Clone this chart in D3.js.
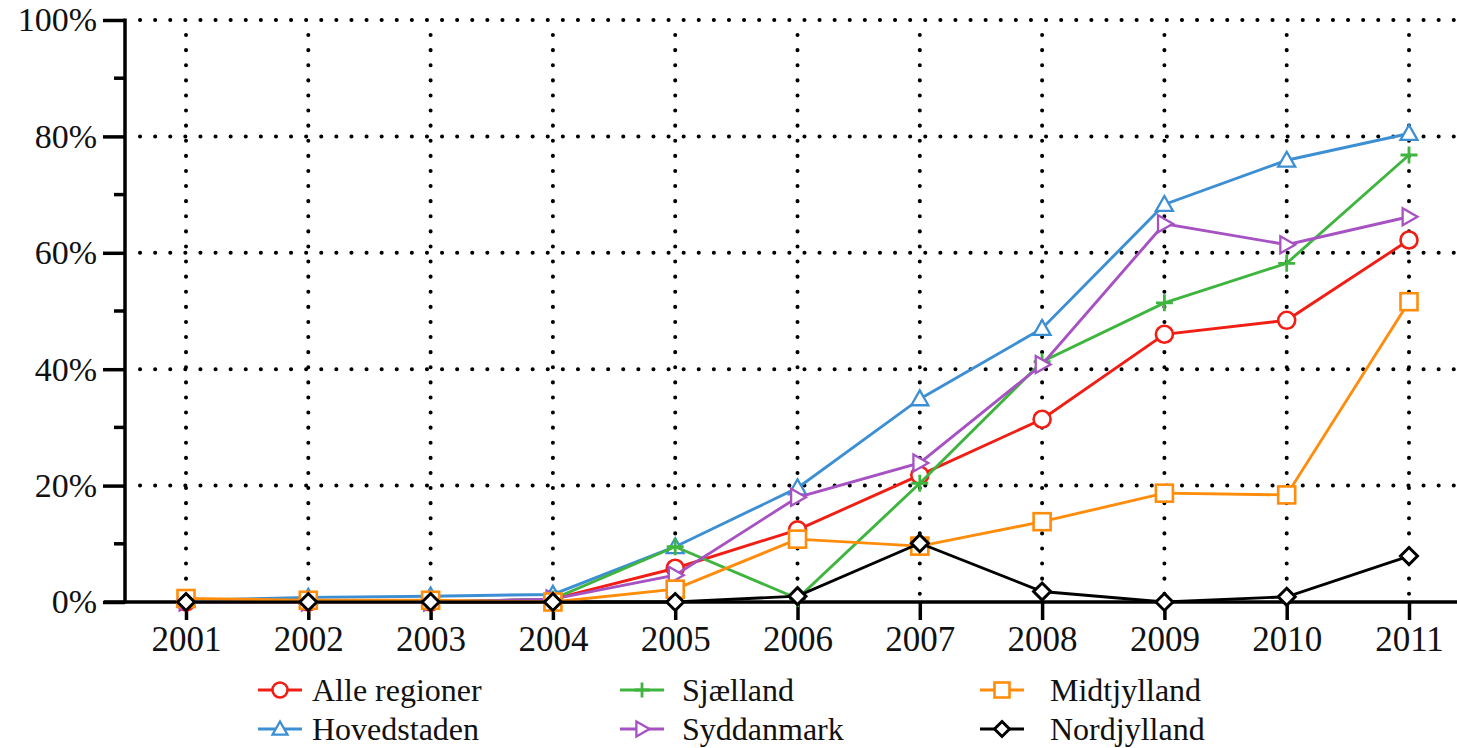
<!DOCTYPE html>
<html lang="da">
<head>
<meta charset="utf-8">
<script src="https://d3js.org/d3.v7.min.js"></script>
<style>
  body { margin: 0; background: #fff; }
  .tick text { font-family: "Liberation Serif", serif; fill: #111; }
  .legend text { font-family: "Liberation Serif", serif; font-size: 32px; fill: #111; }
</style>
</head>
<body>
<svg width="1457" height="748"></svg>
<script>
const years = [2001, 2002, 2003, 2004, 2005, 2006, 2007, 2008, 2009, 2010, 2011];
const yTicks = [0, 20, 40, 60, 80, 100];
const seriesNames = ['Alle regioner', 'Hovedstaden', 'Sjælland', 'Syddanmark', 'Midtjylland', 'Nordjylland'];
const alle       = [0, 0, 0, 0.5, 5.8, 12.4, 21.8, 31.4, 46.0, 48.4, 62.2];
const hoved      = [0.3, 0.8, 1.0, 1.3, 9.5, 19.6, 34.9, 47.0, 68.3, 75.9, 80.5];
const sjaelland  = [0, 0, 0, 0.5, 9.5, 0.6, 20.4, 41.3, 51.4, 58.2, 76.8];
const syddanmark = [0, 0, 0, 0.5, 4.6, 18.0, 23.9, 40.8, 65.0, 61.4, 66.2];
const midt       = [0.6, 0.3, 0.3, 0, 2.2, 10.8, 9.6, 13.8, 18.7, 18.4, 51.6];
const nord       = [0, 0, 0, 0, 0, 1.0, 10.1, 1.8, 0, 0.9, 7.9];

const colors = ['#f01e14', '#3d8fd4', '#3fb43f', '#a652c2', '#ff8c0a', '#000000'];
const shapes = ['circle', 'triangle', 'plus', 'right', 'square', 'diamond'];
const allSeries = [alle, hoved, sjaelland, syddanmark, midt, nord];

const svg = d3.select('svg');
const x = d3.scalePoint().domain(years).range([186, 1409]);
const y = d3.scaleLinear().domain([0, 100]).range([602, 20]);

// dotted grid
const grid = svg.append('g');
grid.selectAll('line.h').data(yTicks.filter(d => d > 0)).join('line')
  .attr('x1', 140).attr('x2', 1457)
  .attr('y1', d => y(d)).attr('y2', d => y(d));
grid.selectAll('line.v').data(years).join('line')
  .attr('x1', d => x(d)).attr('x2', d => x(d))
  .attr('y1', y(100) + 15).attr('y2', y(0) - 6);
grid.selectAll('line')
  .attr('stroke', '#000').attr('stroke-width', 4)
  .attr('stroke-linecap', 'round').attr('stroke-dasharray', '0.1 15');

// axes
const yAxis = d3.axisLeft(y).tickValues(yTicks).tickSize(22).tickPadding(6)
  .tickFormat(d => d + '%');
const yg = svg.append('g').attr('transform', 'translate(125,0)').call(yAxis);
yg.select('.domain').remove();
yg.selectAll('.tick line').attr('stroke', '#000').attr('stroke-width', 3.5);
yg.selectAll('.tick text').attr('font-size', 34);
svg.append('g').selectAll('line').data(d3.range(10, 100, 20)).join('line')
  .attr('x1', 114).attr('x2', 125)
  .attr('y1', d => y(d)).attr('y2', d => y(d))
  .attr('stroke', '#000').attr('stroke-width', 3.5);
svg.append('line').attr('x1', 125).attr('x2', 125)
  .attr('y1', y(100) - 1.5).attr('y2', y(0) + 1.5)
  .attr('stroke', '#000').attr('stroke-width', 3.5);

const xAxis = d3.axisBottom(x).tickSize(18).tickPadding(6).tickFormat(d3.format('d'));
const xg = svg.append('g').attr('transform', `translate(0,${y(0)})`).call(xAxis);
xg.select('.domain').remove();
xg.selectAll('.tick line').attr('stroke', '#000').attr('stroke-width', 3.5);
xg.selectAll('.tick text').attr('font-size', 35);
svg.append('line').attr('x1', 104).attr('x2', 1457)
  .attr('y1', y(0)).attr('y2', y(0))
  .attr('stroke', '#000').attr('stroke-width', 3.5);

function marker(g, shape, color, r) {
  const s = r;
  if (shape === 'circle') {
    g.append('circle').attr('r', s).attr('fill', '#fff').attr('stroke', color).attr('stroke-width', 2.6);
  } else if (shape === 'square') {
    g.append('rect').attr('x', -s).attr('y', -s).attr('width', 2 * s).attr('height', 2 * s)
      .attr('fill', '#fff').attr('stroke', color).attr('stroke-width', 2.6);
  } else if (shape === 'triangle') {
    g.append('path').attr('d', `M0,${-s}L${s},${s * 0.75}L${-s},${s * 0.75}Z`)
      .attr('fill', '#fff').attr('stroke', color).attr('stroke-width', 2.3);
  } else if (shape === 'right') {
    g.append('path').attr('d', `M${s},0L${-s * 0.75},${-s}L${-s * 0.75},${s}Z`)
      .attr('fill', '#fff').attr('stroke', color).attr('stroke-width', 2.3);
  } else if (shape === 'diamond') {
    g.append('path').attr('d', `M0,${-s}L${s},0L0,${s}L${-s},0Z`)
      .attr('fill', '#fff').attr('stroke', color).attr('stroke-width', 3);
  } else if (shape === 'plus') {
    g.append('path').attr('d', `M${-s},0H${s}M0,${-s}V${s}`)
      .attr('fill', 'none').attr('stroke', color).attr('stroke-width', 2.8);
  }
}

const line = d3.line().x((d, i) => x(years[i])).y(d => y(d));
allSeries.forEach((vals, k) => {
  const g = svg.append('g');
  g.append('path').datum(vals).attr('d', line)
    .attr('fill', 'none').attr('stroke', colors[k]).attr('stroke-width', 2.9);
  vals.forEach((v, i) => {
    const m = g.append('g').attr('transform', `translate(${x(years[i])},${y(v)})`);
    marker(m, shapes[k], colors[k], 8.5);
  });
});

// legend
const legCols = [258, 620, 980];
const legRows = [690, 729];
const leg = svg.append('g').attr('class', 'legend');
seriesNames.forEach((name, k) => {
  const col = k < 2 ? 0 : k < 4 ? 1 : 2;
  const row = k % 2;
  const lx = legCols[col], ly = legRows[row];
  const g = leg.append('g').attr('transform', `translate(${lx},${ly})`);
  g.append('line').attr('x1', 0).attr('x2', 44).attr('y1', 0).attr('y2', 0)
    .attr('stroke', colors[k]).attr('stroke-width', 2.9);
  const m = g.append('g').attr('transform', 'translate(22,0)');
  marker(m, shapes[k], colors[k], 7.5);
  g.append('text').attr('x', col === 0 ? 54 : col === 1 ? 62 : 70).attr('y', 11).text(name);
});
</script>
</body>
</html>
